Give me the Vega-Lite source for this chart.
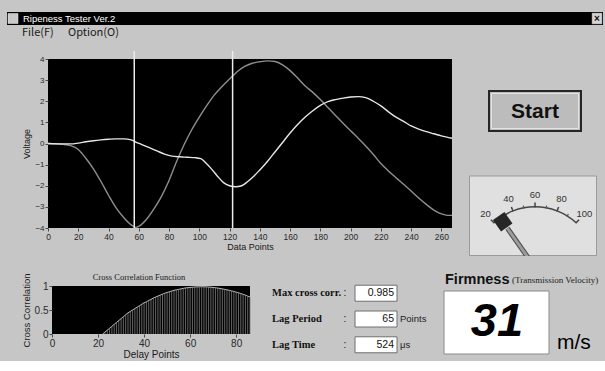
{
 "$schema": "https://vega.github.io/schema/vega-lite/v6.json",
 "background": "#c6c6c6",
 "padding": {"left": 7, "top": 12, "right": 2, "bottom": 2},
 "bounds": "full",
 "spacing": 0,
 "config": {"view": {"stroke": null}, "font": "Liberation Sans", "concat": {"spacing": 0}, "axis": {"labelOverlap": false, "labelSeparation": 0}},
 "datasets": {
  "wave": [
   {"x":0,"v":0,"s":"A"},{"x":5,"v":-0.02,"s":"A"},{"x":10,"v":-0.04,"s":"A"},{"x":15,"v":-0.1,"s":"A"},{"x":20,"v":-0.28,"s":"A"},{"x":25,"v":-0.7,"s":"A"},{"x":30,"v":-1.2,"s":"A"},{"x":35,"v":-1.8,"s":"A"},{"x":40,"v":-2.45,"s":"A"},{"x":45,"v":-3.05,"s":"A"},{"x":50,"v":-3.5,"s":"A"},{"x":55,"v":-3.85,"s":"A"},{"x":58,"v":-3.97,"s":"A"},{"x":60,"v":-3.92,"s":"A"},{"x":65,"v":-3.6,"s":"A"},{"x":70,"v":-3.1,"s":"A"},{"x":75,"v":-2.5,"s":"A"},{"x":80,"v":-1.75,"s":"A"},{"x":85,"v":-0.85,"s":"A"},{"x":90,"v":-0.05,"s":"A"},{"x":95,"v":0.65,"s":"A"},{"x":100,"v":1.25,"s":"A"},{"x":105,"v":1.8,"s":"A"},{"x":110,"v":2.3,"s":"A"},{"x":115,"v":2.7,"s":"A"},{"x":120,"v":3.05,"s":"A"},{"x":125,"v":3.4,"s":"A"},{"x":130,"v":3.65,"s":"A"},{"x":135,"v":3.8,"s":"A"},{"x":140,"v":3.87,"s":"A"},{"x":145,"v":3.91,"s":"A"},{"x":150,"v":3.88,"s":"A"},{"x":155,"v":3.72,"s":"A"},{"x":160,"v":3.45,"s":"A"},{"x":165,"v":3.1,"s":"A"},{"x":170,"v":2.72,"s":"A"},{"x":175,"v":2.42,"s":"A"},{"x":180,"v":2.08,"s":"A"},{"x":185,"v":1.7,"s":"A"},{"x":190,"v":1.33,"s":"A"},{"x":195,"v":0.96,"s":"A"},{"x":200,"v":0.6,"s":"A"},{"x":205,"v":0.25,"s":"A"},{"x":210,"v":-0.12,"s":"A"},{"x":215,"v":-0.52,"s":"A"},{"x":220,"v":-0.95,"s":"A"},{"x":225,"v":-1.3,"s":"A"},{"x":230,"v":-1.62,"s":"A"},{"x":235,"v":-1.93,"s":"A"},{"x":240,"v":-2.25,"s":"A"},{"x":245,"v":-2.58,"s":"A"},{"x":250,"v":-2.88,"s":"A"},{"x":255,"v":-3.15,"s":"A"},{"x":260,"v":-3.33,"s":"A"},{"x":264,"v":-3.4,"s":"A"},{"x":267,"v":-3.4,"s":"A"},
   {"x":0,"v":0,"s":"B"},{"x":10,"v":-0.02,"s":"B"},{"x":15,"v":-0.02,"s":"B"},{"x":20,"v":0.02,"s":"B"},{"x":25,"v":0.08,"s":"B"},{"x":30,"v":0.13,"s":"B"},{"x":35,"v":0.17,"s":"B"},{"x":40,"v":0.2,"s":"B"},{"x":45,"v":0.22,"s":"B"},{"x":50,"v":0.22,"s":"B"},{"x":55,"v":0.17,"s":"B"},{"x":58,"v":0.07,"s":"B"},{"x":62,"v":-0.05,"s":"B"},{"x":67,"v":-0.2,"s":"B"},{"x":72,"v":-0.35,"s":"B"},{"x":77,"v":-0.5,"s":"B"},{"x":82,"v":-0.6,"s":"B"},{"x":87,"v":-0.63,"s":"B"},{"x":92,"v":-0.65,"s":"B"},{"x":97,"v":-0.67,"s":"B"},{"x":101,"v":-0.72,"s":"B"},{"x":104,"v":-0.9,"s":"B"},{"x":108,"v":-1.2,"s":"B"},{"x":112,"v":-1.55,"s":"B"},{"x":116,"v":-1.85,"s":"B"},{"x":120,"v":-2.0,"s":"B"},{"x":124,"v":-2.05,"s":"B"},{"x":128,"v":-2.0,"s":"B"},{"x":132,"v":-1.8,"s":"B"},{"x":136,"v":-1.55,"s":"B"},{"x":140,"v":-1.25,"s":"B"},{"x":145,"v":-0.85,"s":"B"},{"x":150,"v":-0.4,"s":"B"},{"x":155,"v":0.05,"s":"B"},{"x":160,"v":0.5,"s":"B"},{"x":165,"v":0.9,"s":"B"},{"x":170,"v":1.25,"s":"B"},{"x":175,"v":1.55,"s":"B"},{"x":180,"v":1.8,"s":"B"},{"x":185,"v":1.98,"s":"B"},{"x":190,"v":2.08,"s":"B"},{"x":195,"v":2.15,"s":"B"},{"x":200,"v":2.2,"s":"B"},{"x":205,"v":2.22,"s":"B"},{"x":210,"v":2.17,"s":"B"},{"x":215,"v":2.0,"s":"B"},{"x":220,"v":1.78,"s":"B"},{"x":225,"v":1.5,"s":"B"},{"x":230,"v":1.25,"s":"B"},{"x":235,"v":1.05,"s":"B"},{"x":240,"v":0.83,"s":"B"},{"x":245,"v":0.68,"s":"B"},{"x":250,"v":0.56,"s":"B"},{"x":255,"v":0.46,"s":"B"},{"x":260,"v":0.36,"s":"B"},{"x":267,"v":0.25,"s":"B"}
  ],
  "cursor": [{"x":57},{"x":122}],
  "xc": [
   {"d":22,"c":0.0},{"d":23,"c":0.04},{"d":24,"c":0.08},{"d":25,"c":0.12},{"d":26,"c":0.16},{"d":27,"c":0.2},{"d":28,"c":0.24},{"d":29,"c":0.28},{"d":30,"c":0.32},{"d":31,"c":0.36},{"d":32,"c":0.4},{"d":33,"c":0.44},{"d":34,"c":0.47},{"d":35,"c":0.5},{"d":36,"c":0.53},{"d":37,"c":0.56},{"d":38,"c":0.59},{"d":39,"c":0.62},{"d":40,"c":0.65},{"d":41,"c":0.67},{"d":42,"c":0.7},{"d":43,"c":0.72},{"d":44,"c":0.75},{"d":45,"c":0.77},{"d":46,"c":0.79},{"d":47,"c":0.81},{"d":48,"c":0.83},{"d":49,"c":0.85},{"d":50,"c":0.865},{"d":51,"c":0.88},{"d":52,"c":0.895},{"d":53,"c":0.91},{"d":54,"c":0.92},{"d":55,"c":0.93},{"d":56,"c":0.94},{"d":57,"c":0.95},{"d":58,"c":0.96},{"d":59,"c":0.965},{"d":60,"c":0.97},{"d":61,"c":0.975},{"d":62,"c":0.98},{"d":63,"c":0.982},{"d":64,"c":0.984},{"d":65,"c":0.985},{"d":66,"c":0.984},{"d":67,"c":0.982},{"d":68,"c":0.979},{"d":69,"c":0.975},{"d":70,"c":0.97},{"d":71,"c":0.964},{"d":72,"c":0.957},{"d":73,"c":0.949},{"d":74,"c":0.94},{"d":75,"c":0.93},{"d":76,"c":0.92},{"d":77,"c":0.91},{"d":78,"c":0.898},{"d":79,"c":0.885},{"d":80,"c":0.872},{"d":81,"c":0.858},{"d":82,"c":0.843},{"d":83,"c":0.827},{"d":84,"c":0.81},{"d":85,"c":0.79},{"d":86,"c":0.77}
  ],
  "readout": [
   {"name":"Max cross corr.","value":"0.985","unit":""},
   {"name":"Lag Period","value":"65","unit":"Points"},
   {"name":"Lag Time","value":"524","unit":"μs"}
  ],
  "gmajor": [{"v":20},{"v":40},{"v":60},{"v":80},{"v":100}],
  "gminor": [{"v":30},{"v":50},{"v":70},{"v":90}]
 },
 "vconcat": [
  {
   "width": 596, "height": 13,
   "view": {"fill": "#000000", "stroke": null},
   "data": {"values": [{}]},
   "layer": [
    {"mark": {"type": "rect", "fill": "#c9c9c9", "stroke": "#efefef", "strokeWidth": 0.5},
     "encoding": {"x": {"datum": 1, "type": "quantitative", "scale": {"domain": [0, 596], "nice": false, "zero": false}, "axis": null}, "x2": {"datum": 11},
                  "y": {"datum": 1.5, "type": "quantitative", "scale": {"domain": [0, 13], "reverse": true, "nice": false, "zero": false}, "axis": null}, "y2": {"datum": 11.5}}},
    {"mark": {"type": "text", "align": "left", "baseline": "middle", "fill": "#ffffff", "fontSize": 9.5},
     "encoding": {"x": {"datum": 16, "type": "quantitative", "axis": null}, "y": {"datum": 6.5, "type": "quantitative", "axis": null}, "text": {"value": "Ripeness Tester Ver.2"}}},
    {"mark": {"type": "rect", "fill": "#d4d4d4", "stroke": "#8a8a8a", "strokeWidth": 0.5},
     "encoding": {"x": {"datum": 585, "type": "quantitative", "axis": null}, "x2": {"datum": 595}, "y": {"datum": 1, "type": "quantitative", "axis": null}, "y2": {"datum": 12}}},
    {"mark": {"type": "text", "align": "center", "baseline": "middle", "fill": "#111111", "fontSize": 10, "fontWeight": "bold"},
     "encoding": {"x": {"datum": 590, "type": "quantitative", "axis": null}, "y": {"datum": 6.5, "type": "quantitative", "axis": null}, "text": {"value": "×"}}}
   ]
  },
  {
   "width": 596, "height": 24.2,
   "data": {"values": [{}]},
   "layer": [
    {"mark": {"type": "text", "align": "left", "baseline": "middle", "fill": "#1a1a1a", "fontSize": 11, "font": "Noto Sans CJK JP"},
     "encoding": {"x": {"datum": 15, "type": "quantitative", "scale": {"domain": [0, 596], "nice": false, "zero": false}, "axis": null},
                  "y": {"datum": 8, "type": "quantitative", "scale": {"domain": [0, 24.2], "reverse": true, "nice": false, "zero": false}, "axis": null},
                  "text": {"value": "File(F)"}}},
    {"mark": {"type": "text", "align": "left", "baseline": "middle", "fill": "#1a1a1a", "fontSize": 11, "font": "Noto Sans CJK JP"},
     "encoding": {"x": {"datum": 61, "type": "quantitative", "axis": null}, "y": {"datum": 8, "type": "quantitative", "axis": null}, "text": {"value": "Option(O)"}}}
   ]
  },
  {
   "spacing": 0, "bounds": "flush",
   "hconcat": [
    {"width": 41, "height": 1, "data": {"values": []}, "mark": "point"},
    {
     "width": 404, "height": 169,
     "view": {"fill": "#000000", "stroke": null},
     "layer": [
      {"data": {"name": "wave"},
       "mark": {"type": "line", "strokeWidth": 1.4, "interpolate": "monotone"},
       "encoding": {
        "x": {"field": "x", "type": "quantitative", "scale": {"domain": [0, 267], "nice": false, "zero": false},
              "axis": {"values": [0,20,40,60,80,100,120,140,160,180,200,220,240,260], "labelOverlap": false, "title": "Data Points", "grid": false, "domain": false, "tickSize": 3, "tickColor": "#4a4a4a", "labelFontSize": 8.5, "labelColor": "#2a2a2a", "labelPadding": 1, "labelFlush": false, "titleFontSize": 9, "titleFontWeight": "normal", "titleColor": "#1a1a1a", "titlePadding": 2}},
        "y": {"field": "v", "type": "quantitative", "scale": {"domain": [-4, 4], "nice": false, "zero": false},
              "axis": {"values": [-4,-3,-2,-1,0,1,2,3,4], "labelOverlap": false, "title": "Voltage", "grid": false, "domain": false, "tickSize": 3, "tickColor": "#4a4a4a", "labelFontSize": 8, "labelColor": "#2a2a2a", "labelPadding": 1, "labelFlush": false, "titleFontSize": 9, "titleFontWeight": "normal", "titleColor": "#1a1a1a", "titlePadding": 3}},
        "color": {"field": "s", "type": "nominal", "scale": {"domain": ["A", "B"], "range": ["#8f8f8f", "#e6e6e6"]}, "legend": null}
       }},
      {"data": {"name": "cursor"},
       "mark": {"type": "rule", "stroke": "#ececec", "strokeWidth": 1.5},
       "encoding": {
        "x": {"field": "x", "type": "quantitative",
              "axis": {"values": [0,20,40,60,80,100,120,140,160,180,200,220,240,260], "labelOverlap": false, "title": "Data Points", "grid": false, "domain": false, "tickSize": 3, "tickColor": "#4a4a4a", "labelFontSize": 8.5, "labelColor": "#2a2a2a", "labelPadding": 1, "labelFlush": false, "titleFontSize": 9, "titleFontWeight": "normal", "titleColor": "#1a1a1a", "titlePadding": 2}},
        "y": {"datum": -4, "type": "quantitative",
              "axis": {"values": [-4,-3,-2,-1,0,1,2,3,4], "labelOverlap": false, "title": "Voltage", "grid": false, "domain": false, "tickSize": 3, "tickColor": "#4a4a4a", "labelFontSize": 8, "labelColor": "#2a2a2a", "labelPadding": 1, "labelFlush": false, "titleFontSize": 9, "titleFontWeight": "normal", "titleColor": "#1a1a1a", "titlePadding": 3}},
        "y2": {"datum": 4.38}}}
     ]
    },
    {"width": 17, "height": 1, "data": {"values": []}, "mark": "point"},
    {
     "width": 128, "height": 197,
     "layer": [
      {"data": {"values": [{}]},
       "mark": {"type": "rect", "fill": "#bcbcbc", "stroke": "#262626", "strokeWidth": 2},
       "encoding": {"x": {"datum": 20, "type": "quantitative", "scale": {"domain": [0, 128], "nice": false, "zero": false}, "axis": null}, "x2": {"datum": 112},
                    "y": {"datum": 32, "type": "quantitative", "scale": {"domain": [0, 197], "reverse": true, "nice": false, "zero": false}, "axis": null}, "y2": {"datum": 72}}},
      {"data": {"values": [{}]},
       "mark": {"type": "rect", "fillOpacity": 0, "stroke": "#e4e4e4", "strokeWidth": 1},
       "encoding": {"x": {"datum": 22.5, "type": "quantitative", "axis": null}, "x2": {"datum": 109.5}, "y": {"datum": 34.5, "type": "quantitative", "axis": null}, "y2": {"datum": 69.5}}},
      {"data": {"values": [{}]},
       "mark": {"type": "text", "align": "center", "baseline": "middle", "fontSize": 21, "fontWeight": "bold", "fill": "#111111"},
       "encoding": {"x": {"datum": 66, "type": "quantitative", "axis": null}, "y": {"datum": 52.5, "type": "quantitative", "axis": null}, "text": {"value": "Start"}}},
      {"data": {"values": [{}]},
       "mark": {"type": "rect", "fill": "#e0e0e0", "stroke": "#9a9a9a", "strokeWidth": 1},
       "encoding": {"x": {"datum": 0.5, "type": "quantitative", "axis": null}, "x2": {"datum": 127.5}, "y": {"datum": 117, "type": "quantitative", "axis": null}, "y2": {"datum": 196.5}}},
      {"data": {"values": [{}]},
       "mark": {"type": "arc", "radius": 61.5, "radius2": 60, "fill": "#444444"},
       "encoding": {"x": {"datum": 66, "type": "quantitative", "axis": null}, "y": {"datum": 208.5, "type": "quantitative", "axis": null},
                    "theta": {"datum": 20, "type": "quantitative", "stack": null, "scale": {"domain": [20, 100], "range": [-0.744, 0.744]}}, "theta2": {"datum": 100}}},
      {"data": {"name": "gmajor"},
       "mark": {"type": "arc", "radius": 65, "radius2": 60, "fill": "#444444", "thetaOffset": -0.012, "theta2Offset": 0.012},
       "encoding": {"x": {"datum": 66, "type": "quantitative", "axis": null}, "y": {"datum": 208.5, "type": "quantitative", "axis": null},
                    "theta": {"field": "v", "type": "quantitative", "stack": null}, "theta2": {"field": "v"}}},
      {"data": {"name": "gminor"},
       "mark": {"type": "arc", "radius": 63, "radius2": 60, "fill": "#555555", "thetaOffset": -0.01, "theta2Offset": 0.01},
       "encoding": {"x": {"datum": 66, "type": "quantitative", "axis": null}, "y": {"datum": 208.5, "type": "quantitative", "axis": null},
                    "theta": {"field": "v", "type": "quantitative", "stack": null}, "theta2": {"field": "v"}}},
      {"data": {"name": "gmajor"},
       "mark": {"type": "text", "radius": 73, "align": "center", "baseline": "middle", "fontSize": 9.5, "fill": "#333333"},
       "encoding": {"x": {"datum": 66, "type": "quantitative", "axis": null}, "y": {"datum": 208.5, "type": "quantitative", "axis": null},
                    "theta": {"field": "v", "type": "quantitative", "stack": null}, "text": {"field": "v", "type": "quantitative"}}},
      {"data": {"values": [{}]},
       "mark": {"type": "rule", "stroke": "#4a4a4a", "strokeWidth": 5, "clip": true},
       "encoding": {"x": {"datum": 38.4, "type": "quantitative", "axis": null}, "y": {"datum": 169.3, "type": "quantitative", "axis": null}, "x2": {"datum": 66}, "y2": {"datum": 208.5}}},
      {"data": {"values": [{}]},
       "mark": {"type": "rule", "stroke": "#9c9c9c", "strokeWidth": 3, "clip": true},
       "encoding": {"x": {"datum": 38.4, "type": "quantitative", "axis": null}, "y": {"datum": 169.3, "type": "quantitative", "axis": null}, "x2": {"datum": 66}, "y2": {"datum": 208.5}}},
      {"data": {"values": [{}]},
       "mark": {"type": "point", "shape": "square", "filled": true, "fill": "#262626", "opacity": 1, "size": 196, "angle": 325},
       "encoding": {"x": {"datum": 33.7, "type": "quantitative", "axis": null}, "y": {"datum": 162.7, "type": "quantitative", "axis": null}}}
     ]
    }
   ]
  },
  {"width": 1, "height": 15.5, "data": {"values": []}, "mark": "point"},
  {
   "spacing": 0, "bounds": "flush",
   "hconcat": [
    {"width": 45, "height": 1, "data": {"values": []}, "mark": "point"},
    {
     "width": 198, "height": 48,
     "view": {"fill": "#000000", "stroke": null},
     "title": {"text": "Cross Correlation Function", "font": "Liberation Serif", "fontSize": 8.5, "fontWeight": "normal", "color": "#1a1a1a", "offset": -8, "dx": -12},
     "data": {"name": "xc"},
     "layer": [
      {"mark": {"type": "rule", "stroke": "#7e7e7e", "strokeWidth": 0.8},
       "encoding": {
        "x": {"field": "d", "type": "quantitative", "scale": {"domain": [0, 86], "nice": false, "zero": false},
              "axis": {"values": [0,20,40,60,80], "labelOverlap": false, "title": "Delay Points", "grid": false, "domain": false, "tickSize": 3, "tickColor": "#4a4a4a", "labelFontSize": 10, "labelColor": "#2a2a2a", "labelPadding": 1, "labelFlush": false, "titleFontSize": 10, "titleFontWeight": "normal", "titleColor": "#1a1a1a", "titlePadding": 1}},
        "y": {"field": "c", "type": "quantitative", "scale": {"domain": [0, 1], "nice": false, "zero": false},
              "axis": {"values": [0, 0.5, 1], "labelOverlap": false, "format": "~g", "title": "Cross Correlation", "grid": false, "domain": false, "tickSize": 3, "tickColor": "#4a4a4a", "labelFontSize": 10, "labelColor": "#2a2a2a", "labelPadding": 1, "labelFlush": false, "titleFontSize": 9.5, "titleFontWeight": "normal", "titleColor": "#1a1a1a", "titlePadding": 3}},
        "y2": {"datum": 0}
       }},
      {"mark": {"type": "line", "stroke": "#b8b8b8", "strokeWidth": 1},
       "encoding": {
        "x": {"field": "d", "type": "quantitative",
              "axis": {"values": [0,20,40,60,80], "labelOverlap": false, "title": "Delay Points", "grid": false, "domain": false, "tickSize": 3, "tickColor": "#4a4a4a", "labelFontSize": 10, "labelColor": "#2a2a2a", "labelPadding": 1, "labelFlush": false, "titleFontSize": 10, "titleFontWeight": "normal", "titleColor": "#1a1a1a", "titlePadding": 1}},
        "y": {"field": "c", "type": "quantitative",
              "axis": {"values": [0, 0.5, 1], "labelOverlap": false, "format": "~g", "title": "Cross Correlation", "grid": false, "domain": false, "tickSize": 3, "tickColor": "#4a4a4a", "labelFontSize": 10, "labelColor": "#2a2a2a", "labelPadding": 1, "labelFlush": false, "titleFontSize": 9.5, "titleFontWeight": "normal", "titleColor": "#1a1a1a", "titlePadding": 3}}}}
     ]
    },
    {"width": 20, "height": 1, "data": {"values": []}, "mark": "point"},
    {
     "width": 170, "height": 66,
     "data": {"name": "readout"},
     "layer": [
      {"mark": {"type": "rect", "fill": "#ffffff", "stroke": "#6f6f6f", "strokeWidth": 1, "height": 16},
       "encoding": {"x": {"datum": 85, "type": "quantitative", "scale": {"domain": [0, 170], "nice": false, "zero": false}, "axis": null}, "x2": {"datum": 127},
                    "y": {"field": "name", "type": "nominal", "sort": null, "scale": {"type": "point", "padding": 0.28}, "axis": null}}},
      {"mark": {"type": "text", "align": "left", "baseline": "middle", "font": "Liberation Serif", "fontWeight": "bold", "fontSize": 10.5, "fill": "#111111"},
       "encoding": {"x": {"datum": 2, "type": "quantitative", "axis": null}, "y": {"field": "name", "type": "nominal", "sort": null, "axis": null}, "text": {"field": "name"}}},
      {"mark": {"type": "text", "align": "center", "baseline": "middle", "fontSize": 10, "fill": "#111111"},
       "encoding": {"x": {"datum": 75, "type": "quantitative", "axis": null}, "y": {"field": "name", "type": "nominal", "sort": null, "axis": null}, "text": {"value": ":"}}},
      {"mark": {"type": "text", "align": "right", "baseline": "middle", "fontSize": 10.5, "fill": "#111111"},
       "encoding": {"x": {"datum": 124, "type": "quantitative", "axis": null}, "y": {"field": "name", "type": "nominal", "sort": null, "axis": null}, "text": {"field": "value"}}},
      {"mark": {"type": "text", "align": "left", "baseline": "middle", "fontSize": 9.5, "fill": "#222222"},
       "encoding": {"x": {"datum": 130, "type": "quantitative", "axis": null}, "y": {"field": "name", "type": "nominal", "sort": null, "axis": null}, "text": {"field": "unit"}}}
     ]
    },
    {
     "width": 158, "height": 68,
     "data": {"values": [{}]},
     "layer": [
      {"mark": {"type": "rect", "fill": "#ffffff", "stroke": "#8a8a8a", "strokeWidth": 1},
       "encoding": {"x": {"datum": 4, "type": "quantitative", "scale": {"domain": [0, 158], "nice": false, "zero": false}, "axis": null}, "x2": {"datum": 109},
                    "y": {"datum": 5, "type": "quantitative", "scale": {"domain": [0, 68], "reverse": true, "nice": false, "zero": false}, "axis": null}, "y2": {"datum": 68}}},
      {"mark": {"type": "text", "align": "center", "baseline": "alphabetic", "fontSize": 47, "fontWeight": "bold", "fontStyle": "italic", "fill": "#000000"},
       "encoding": {"x": {"datum": 57, "type": "quantitative", "axis": null}, "y": {"datum": 50, "type": "quantitative", "axis": null}, "text": {"value": "31"}}},
      {"mark": {"type": "text", "align": "left", "baseline": "alphabetic", "fontSize": 21, "fill": "#000000"},
       "encoding": {"x": {"datum": 117, "type": "quantitative", "axis": null}, "y": {"datum": 63, "type": "quantitative", "axis": null}, "text": {"value": "m/s"}}},
      {"mark": {"type": "text", "align": "left", "baseline": "alphabetic", "fontSize": 14.5, "fontWeight": "bold", "fill": "#111111"},
       "encoding": {"x": {"datum": 5, "type": "quantitative", "axis": null}, "y": {"datum": -2, "type": "quantitative", "axis": null}, "text": {"value": "Firmness"}}},
      {"mark": {"type": "text", "align": "left", "baseline": "alphabetic", "fontSize": 9, "font": "Liberation Serif", "fill": "#222222"},
       "encoding": {"x": {"datum": 72, "type": "quantitative", "axis": null}, "y": {"datum": -3, "type": "quantitative", "axis": null}, "text": {"value": "(Transmission Velocity)"}}}
     ]
    }
   ]
  }
 ]
}
